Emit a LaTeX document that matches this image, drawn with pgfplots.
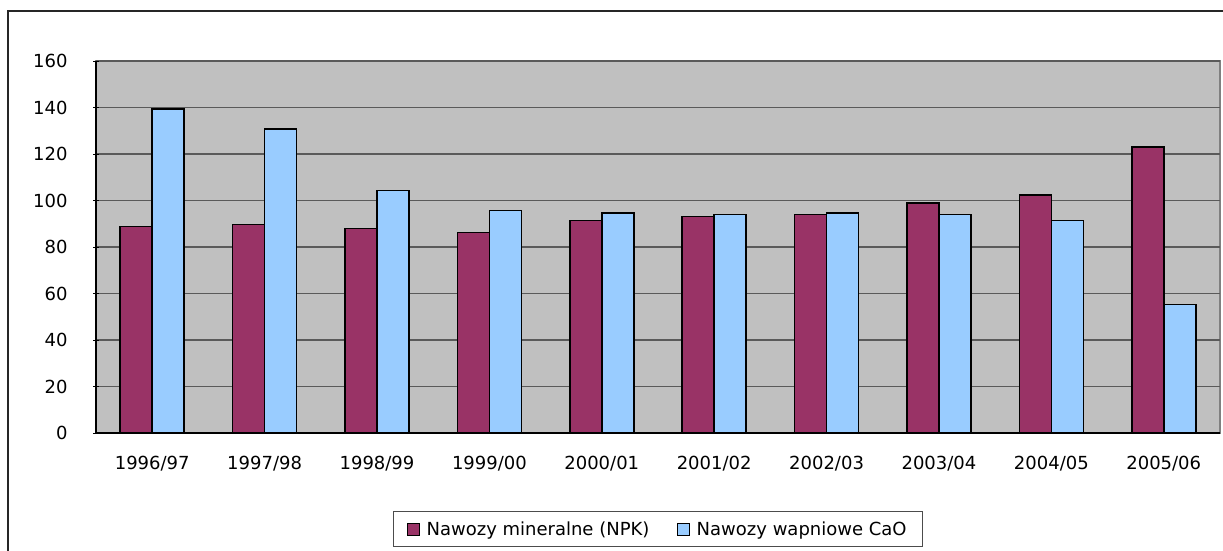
\documentclass[border=0pt]{standalone}
\usepackage{pgfplots}
\pgfplotsset{compat=1.18}
\usepackage{fontspec}
\setmainfont{DejaVu Sans}
\definecolor{npk}{HTML}{993366}
\definecolor{cao}{HTML}{99CCFF}
\definecolor{plotbg}{HTML}{C0C0C0}
\definecolor{gridc}{HTML}{5A5A5A}
\begin{document}
\begin{tikzpicture}[x=1pt,y=1pt]
\useasboundingbox (0,0) rectangle (1223,550);
\fill[white] (0,0) rectangle (1223,550);
\draw[line width=1.3pt, black!85] (8,-20) -- (8,539) -- (1240,539);
\begin{axis}[
  at={(96pt,117pt)}, anchor=south west,
  scale only axis, width=1124pt, height=372pt,
  ybar=0pt, bar width=32pt,
  xmin=-0.5, xmax=9.5, ymin=0, ymax=160,
  ytick={0,20,...,160},
  xtick={0,...,9},
  xticklabels={1996/97,1997/98,1998/99,1999/00,2000/01,2001/02,2002/03,2003/04,2004/05,2005/06},
  x tick style={draw=none},
  extra x ticks={-0.5,0.5,...,9.5},
  extra x tick labels={},
  extra x tick style={major tick length=6pt, tick align=outside, tick style={draw=black, line width=1pt}, grid=none},
  y tick style={draw=black, line width=1pt},
  major tick length=6pt, tick align=outside,
  axis x line=bottom, axis y line=left,
  axis line style={-, black, line width=1.2pt},
  axis background/.style={fill=plotbg, draw=black!50, line width=1.5pt},
  ymajorgrids, grid style={gridc, line width=1.2pt},
  /pgf/number format/assume math mode=true,
  ticklabel style={font=\fontsize{18}{21}\selectfont},
  xticklabel style={yshift=-17pt},
  yticklabel style={xshift=-22pt},
  legend style={at={(0.5,-0.2097)}, anchor=north, draw=black!70, line width=1pt, fill=white,
    font=\fontsize{18}{21}\selectfont, legend columns=2, inner xsep=14pt, inner ysep=8pt,
    /tikz/every even column/.append style={column sep=26pt}},
  legend image code/.code={\draw[#1, draw=black, line width=1pt] (0pt,-6pt) rectangle (12pt,6pt); \path (16pt,0pt);},
  every axis plot/.append style={draw=black, line width=1.5pt},
]
\addplot[fill=npk] coordinates {(0,88.8) (1,89.6) (2,87.9) (3,86.2) (4,91.3) (5,93.1) (6,93.9) (7,98.9) (8,102.4) (9,123.0)};
\addplot[fill=cao] coordinates {(0,139.3) (1,130.7) (2,104.3) (3,95.6) (4,94.7) (5,93.9) (6,94.7) (7,93.9) (8,91.3) (9,55.3)};
\legend{Nawozy mineralne (NPK), Nawozy wapniowe CaO}
\end{axis}
\end{tikzpicture}
\end{document}
